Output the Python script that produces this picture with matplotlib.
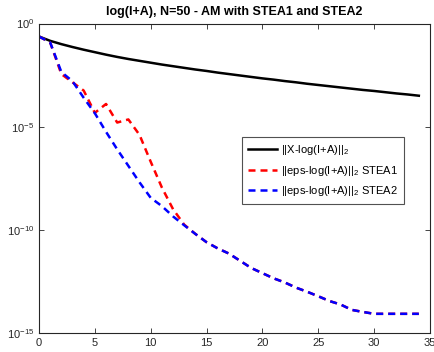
import numpy as np
import matplotlib
matplotlib.use("Agg")
import matplotlib.pyplot as plt
from matplotlib.ticker import FixedLocator, NullLocator

plt.rcParams['font.family'] = ['Liberation Sans', 'DejaVu Sans']
plt.rcParams['mathtext.fontset'] = 'custom'
plt.rcParams['mathtext.rm'] = 'Liberation Sans'
plt.rcParams['mathtext.it'] = 'Liberation Sans:italic'

iters = list(range(0, 35))

# log10 of the error norms
am_log = [-0.63, -0.84, -1.00, -1.14, -1.27, -1.39, -1.51, -1.62, -1.72, -1.81,
          -1.90, -1.99, -2.07, -2.15, -2.23, -2.30, -2.38, -2.45, -2.52, -2.59,
          -2.66, -2.72, -2.79, -2.85, -2.92, -2.98, -3.04, -3.10, -3.16, -3.22,
          -3.27, -3.33, -3.39, -3.44, -3.50]

stea1_log = [-0.63, -0.92, -2.45, -2.85, -3.25, -4.33, -3.90, -4.80, -4.65, -5.40,
             -6.70, -7.95, -9.00, -9.75, -10.20, -10.60, -10.90, -11.15, -11.50, -11.85,
             -12.10, -12.35, -12.55, -12.80, -13.00, -13.22, -13.45, -13.62, -13.88, -13.98,
             -14.07, -14.07, -14.07, -14.07, -14.07]

stea2_log = [-0.63, -0.92, -2.35, -2.80, -3.60, -4.35, -5.25, -6.10, -6.90, -7.70,
             -8.45, -8.85, -9.35, -9.78, -10.20, -10.60, -10.90, -11.15, -11.50, -11.85,
             -12.10, -12.35, -12.55, -12.80, -13.00, -13.22, -13.45, -13.62, -13.88, -13.98,
             -14.07, -14.07, -14.07, -14.07, -14.07]

am = 10.0 ** np.array(am_log)
stea1 = 10.0 ** np.array(stea1_log)
stea2 = 10.0 ** np.array(stea2_log)

labels = [r'||X-log(I+A)||$_2$',
          r'||eps-log(I+A)||$_2$ STEA1',
          r'||eps-log(I+A)||$_2$ STEA2']
title = 'log(I+A), N=50 - AM with STEA1 and STEA2'

fig = plt.figure(figsize=(4.34, 3.52), dpi=100)
ax = fig.add_axes([39/434, 1 - 333/352, 391/434, 309.5/352])

ax.semilogy(iters, am, color='black', lw=1.8, label=labels[0])
ax.semilogy(iters, stea1, color='#ff0000', lw=1.8, ls='--', dashes=(2.8, 2.0), label=labels[1])
ax.semilogy(iters, stea2, color='#0000ff', lw=1.8, ls='--', dashes=(2.8, 2.0), label=labels[2])

ax.set_xlim(0, 35)
ax.set_ylim(1e-15, 1e0)
ax.xaxis.set_major_locator(FixedLocator([0, 5, 10, 15, 20, 25, 30, 35]))
ax.yaxis.set_major_locator(FixedLocator([1e-15, 1e-10, 1e-5, 1e0]))
ax.yaxis.set_minor_locator(NullLocator())
ax.tick_params(which='both', direction='in', top=True, right=True, labelsize=8,
               colors='#262626', length=3.5, width=0.6)
for sp in ax.spines.values():
    sp.set_color('#262626')
    sp.set_linewidth(0.8)

ax.set_title(title, fontsize=9, fontweight='bold', pad=6)

leg = ax.legend(loc='center', bbox_to_anchor=(0.727, 0.525), fontsize=8,
                frameon=True, fancybox=False, edgecolor='#262626',
                handlelength=2.6, borderpad=0.5, labelspacing=0.6, handletextpad=0.4)
leg.get_frame().set_linewidth(0.8)

fig.savefig('out.png', dpi=100)
